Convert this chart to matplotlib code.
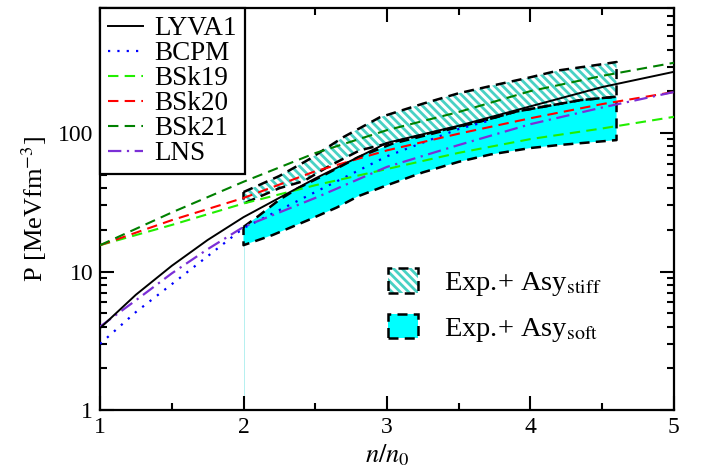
import numpy as np
import matplotlib.pyplot as plt
from matplotlib.patches import Patch
from matplotlib.legend_handler import HandlerTuple
from matplotlib.ticker import LogLocator, MultipleLocator, FixedLocator

plt.rcParams.update({
    'font.family': 'Liberation Serif',
    'mathtext.fontset': 'stix',
    'hatch.linewidth': 2.0,
})

# EOS curves, pressure in MeV fm^-3 against n/n0
x_lyva = [1.0, 1.25, 1.5, 1.75, 2.0, 2.5, 3.0, 3.5, 4.0, 4.5, 5.0]
p_lyva = [3.9, 6.8, 11.0, 16.9, 24.7, 47, 85, 113, 156, 215, 277]

x_bcpm = [1.0, 1.25, 1.5, 1.75, 2.0, 2.5, 3.0, 3.5, 3.7]
p_bcpm = [3.0, 5.1, 8.1, 12.9, 20.6, 37.5, 68, 107, 122]

x_bsk = [1.0, 1.5, 2.0, 2.5, 3.0, 3.5, 4.0, 4.5, 5.0]
p_bsk19 = [15.5, 21.7, 31, 42, 55, 72, 90.5, 108, 131]
p_bsk20 = [15.5, 23.5, 34, 53, 75, 99, 128, 162, 198]
p_bsk21 = [15.5, 26.7, 44.5, 71.7, 105, 142, 201, 259, 322]

x_lns = [1.0, 1.25, 1.5, 1.75, 2.0, 2.5, 3.0, 3.5, 4.0, 4.5, 5.0]
p_lns = [4.0, 6.2, 9.7, 14.5, 21, 34, 57, 82, 116, 153, 198]

# constraint bands (experiment + asymmetry term)
x_stiff_hi = [2.0, 2.25, 2.45, 2.7, 2.95, 3.25, 3.5, 3.75, 4.0, 4.2, 4.45, 4.6]
p_stiff_hi = [37.5, 49, 64, 94, 130, 163, 194, 222, 253, 284, 309, 326]
x_stiff_lo = [2.0, 2.25, 2.42, 2.6, 2.81, 3.04, 3.3, 3.7, 3.9, 4.35, 4.6]
p_stiff_lo = [31, 40, 45, 58, 75, 86, 100, 125, 143, 173, 183]

x_soft_hi = [2.0, 2.1, 2.25, 2.38, 2.55, 2.8, 3.04, 3.3, 3.7, 3.9, 4.35, 4.6]
p_soft_hi = [21, 25, 33, 40, 49, 67, 84, 98, 125, 143, 173, 183]
x_soft_lo = [2.0, 2.2, 2.45, 2.65, 2.8, 3.0, 3.25, 3.5, 3.72, 4.0, 4.2, 4.6]
p_soft_lo = [15.5, 18.3, 23.5, 29, 35, 42, 52, 62, 70, 78, 82, 89]

HATCH_C = '#48D1C4'
HATCH = '\\\\\\\\'
DASH = (0, (4, 2.5))

fig = plt.figure(figsize=(7.02, 4.73), dpi=100)
ax = fig.add_axes([0.1425, 0.1332, 0.8175, 0.8498])


def band_outline(xh, ph, xl, pl):
    bx = np.r_[xh, xl[::-1], xh[0]]
    by = np.r_[ph, pl[::-1], ph[0]]
    return bx, by


sx, sy = band_outline(x_stiff_hi, p_stiff_hi, x_stiff_lo, p_stiff_lo)
ax.fill(sx, sy, facecolor='white', edgecolor=HATCH_C, hatch=HATCH, linewidth=0, zorder=1)
fx, fy = band_outline(x_soft_hi, p_soft_hi, x_soft_lo, p_soft_lo)
ax.fill(fx, fy, facecolor='cyan', edgecolor='none', zorder=2)

# thin guide from the soft band down to the axis
ax.plot([x_soft_lo[0], x_soft_lo[0]], [1, p_soft_lo[0]], color='#A8EEEE', lw=0.6, zorder=1)

ax.plot(sx, sy, color='black', lw=1.8, linestyle=DASH, zorder=3)
ax.plot(fx, fy, color='black', lw=1.8, linestyle=DASH, zorder=3)

ax.plot(x_lyva, p_lyva, color='black', lw=1.4, label='LYVA1', zorder=5)
ax.plot(x_bcpm, p_bcpm, color='blue', lw=1.6, linestyle=(0, (1, 3.2)), label='BCPM', zorder=4)
ax.plot(x_bsk, p_bsk19, color='#22EE00', lw=1.5, linestyle=(0, (5, 3)), label='BSk19', zorder=4)
ax.plot(x_bsk, p_bsk20, color='red', lw=1.5, linestyle=(0, (5, 3)), label='BSk20', zorder=4)
ax.plot(x_bsk, p_bsk21, color='green', lw=1.5, linestyle=(0, (5, 3)), label='BSk21', zorder=4)
ax.plot(x_lns, p_lns, color='#7B2FD6', lw=1.6, linestyle=(0, (6, 2.5, 1, 2.5)), label='LNS', zorder=4)

ax.set_yscale('log')
ax.set_xlim(1, 5)
ax.set_ylim(1, 800)
ax.xaxis.set_major_locator(FixedLocator([1, 2, 3, 4, 5]))
ax.xaxis.set_minor_locator(MultipleLocator(0.5))
ax.yaxis.set_major_locator(FixedLocator([1, 10, 100]))
ax.yaxis.set_minor_locator(LogLocator(base=10, subs=np.arange(2, 10)))
ax.set_yticklabels(['1', '10', '100'])
ax.set_xticklabels(['1', '2', '3', '4', '5'])
ax.tick_params(which='both', direction='in', top=True, right=True, width=1.5, labelsize=17, pad=5)
ax.tick_params(which='major', length=10)
ax.tick_params(which='minor', length=5)
for s in ax.spines.values():
    s.set_linewidth(1.6)

ax.set_xlabel(r'$n/n_0$', fontsize=19, labelpad=3)
ax.set_ylabel(r'P [MeVfm$^{-3}$]', fontsize=19, labelpad=6)

leg1 = ax.legend(loc='upper left', borderaxespad=0, fontsize=19.5, frameon=True, fancybox=False,
                 edgecolor='black', framealpha=1, handlelength=1.3, handletextpad=0.4,
                 labelspacing=0.0, borderpad=0.3)
leg1.get_frame().set_linewidth(1.6)
leg1.set_zorder(6)
ax.add_artist(leg1)

h_stiff = (Patch(facecolor='white', edgecolor=HATCH_C, hatch=HATCH, linewidth=0),
           Patch(facecolor='none', edgecolor='black', linestyle=(0, (4, 2.5)), linewidth=1.8))
h_soft = (Patch(facecolor='cyan', edgecolor='none'),
          Patch(facecolor='none', edgecolor='black', linestyle=(0, (4, 2.5)), linewidth=1.8))
ax.legend([h_stiff, h_soft], [r'Exp.+ Asy$_{\rm stiff}$', r'Exp.+ Asy$_{\rm soft}$'],
          handler_map={tuple: HandlerTuple(ndivide=1, pad=0)},
          loc='upper left', bbox_to_anchor=(0.458, 0.417), frameon=False, fontsize=20.5,
          handlelength=1.05, handleheight=0.95, handletextpad=0.9, labelspacing=0.55)

fig.savefig('out.png', dpi=100)
